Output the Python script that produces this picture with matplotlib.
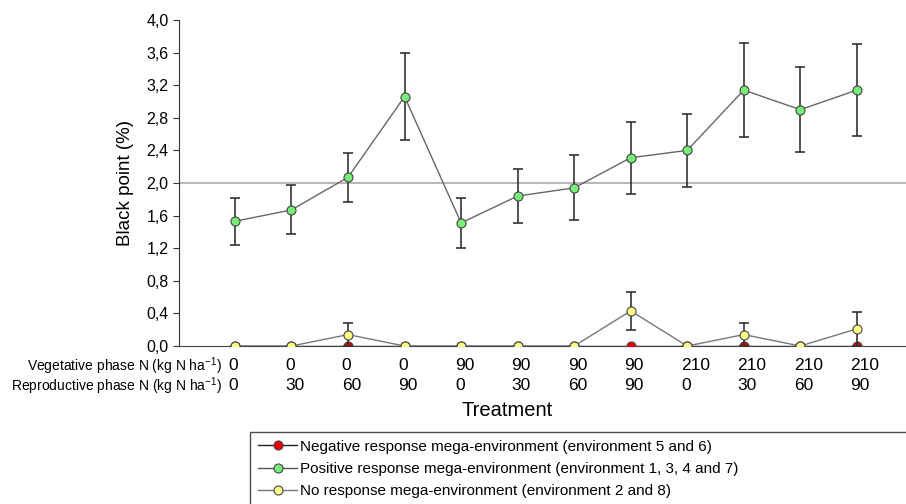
import matplotlib
import matplotlib.pyplot as plt
from matplotlib.lines import Line2D
from matplotlib.ticker import FuncFormatter
from matplotlib.transforms import blended_transform_factory

matplotlib.use("Agg")
plt.rcParams["font.family"] = ["Liberation Sans", "DejaVu Sans"]
plt.rcParams["mathtext.fontset"] = "custom"
plt.rcParams["mathtext.rm"] = "Liberation Sans"

treatments = list(range(12))
veg_n = ["0", "0", "0", "0", "90", "90", "90", "90", "210", "210", "210", "210"]
rep_n = ["0", "30", "60", "90", "0", "30", "60", "90", "0", "30", "60", "90"]

pos_mean = [1.53, 1.67, 2.07, 3.06, 1.51, 1.84, 1.94, 2.31, 2.40, 3.14, 2.90, 3.14]
pos_err = [0.29, 0.30, 0.30, 0.53, 0.31, 0.33, 0.40, 0.44, 0.45, 0.58, 0.52, 0.56]
none_mean = [0, 0, 0.14, 0, 0, 0, 0, 0.43, 0, 0.14, 0, 0.21]
none_err = [0, 0, 0.14, 0, 0, 0, 0, 0.23, 0, 0.14, 0, 0.21]
neg_mean = [0, 0, 0, 0, 0, 0, 0, 0, 0, 0, 0, 0]

labels = [
    "Negative response mega-environment (environment 5 and 6)",
    "Positive response mega-environment (environment 1, 3, 4 and 7)",
    "No response mega-environment (environment 2 and 8)",
]

fig = plt.figure(figsize=(9.06, 5.04), dpi=100)
ax = fig.add_axes([179 / 906, 1 - 346 / 504, 727 / 906, 326 / 504])

ax.axhline(2.0, color="#b8b8b8", lw=1.5, zorder=1)

mk = dict(marker="o", markersize=6.5, markeredgecolor="#444444", markeredgewidth=0.8)
eb = dict(ecolor="#333333", elinewidth=1.2, capsize=3.5, capthick=1.2)

ax.plot(treatments, neg_mean, color="#222222", lw=1, markerfacecolor="#ee0000", zorder=3, **mk)
ax.errorbar(treatments, none_mean, yerr=none_err, fmt="none", zorder=4, **eb)
ax.plot(treatments, none_mean, color="#777777", lw=1, markerfacecolor="#ffff88", zorder=5, **mk)
ax.errorbar(treatments, pos_mean, yerr=pos_err, fmt="none", zorder=6, **eb)
ax.plot(treatments, pos_mean, color="#666666", lw=1, markerfacecolor="#77ee77", zorder=7, **mk)

ax.set_xlim(-0.99, 11.87)
ax.set_ylim(0, 4.0)
ax.set_yticks([i * 0.4 for i in range(11)])
ax.yaxis.set_major_formatter(FuncFormatter(lambda v, _: f"{v:.1f}".replace(".", ",")))
ax.tick_params(axis="y", labelsize=11.5, length=4, color="#333333")
ax.set_xticks([])
for side in ("top", "right"):
    ax.spines[side].set_visible(False)
ax.spines["left"].set_color("#333333")
ax.spines["bottom"].set_color("#444444")

fig.text(125 / 906, 1 - 183 / 504, "Black point (%)", rotation=90, ha="center", va="center", fontsize=13.5)

# treatment rows under the axis
tr = blended_transform_factory(ax.transData, fig.transFigure)
for x, v, r in zip(treatments, veg_n, rep_n):
    ax.text(x - 0.11, 1 - 366 / 504, v, transform=tr, ha="left", va="center", fontsize=12.5)
    ax.text(x - 0.11, 1 - 386 / 504, r, transform=tr, ha="left", va="center", fontsize=12.5)
fig.text(222 / 906, 1 - 366 / 504, r"Vegetative phase N (kg N ha$^{\mathregular{-1}}$)", ha="right", va="center", fontsize=10)
fig.text(222 / 906, 1 - 386 / 504, r"Reproductive phase N (kg N ha$^{\mathregular{-1}}$)", ha="right", va="center", fontsize=10)
fig.text(507 / 906, 1 - 411 / 504, "Treatment", ha="center", va="center", fontsize=14.5)

handles = [
    Line2D([], [], color="#222222", lw=1, markerfacecolor="#ee0000", **mk),
    Line2D([], [], color="#555555", lw=1, markerfacecolor="#77ee77", **mk),
    Line2D([], [], color="#777777", lw=1, markerfacecolor="#ffff88", **mk),
]
leg = fig.legend(handles, labels, loc="upper left",
                 bbox_to_anchor=(250 / 906, 1 - 432 / 504, 750 / 906, 0), mode="expand",
                 fontsize=11, frameon=True, fancybox=False, handlelength=2.6, handletextpad=0.2,
                 labelspacing=0.55, borderpad=0.5, borderaxespad=0)
leg.get_frame().set_edgecolor("#222222")
leg.get_frame().set_linewidth(1)

fig.savefig("out.png", dpi=100)
